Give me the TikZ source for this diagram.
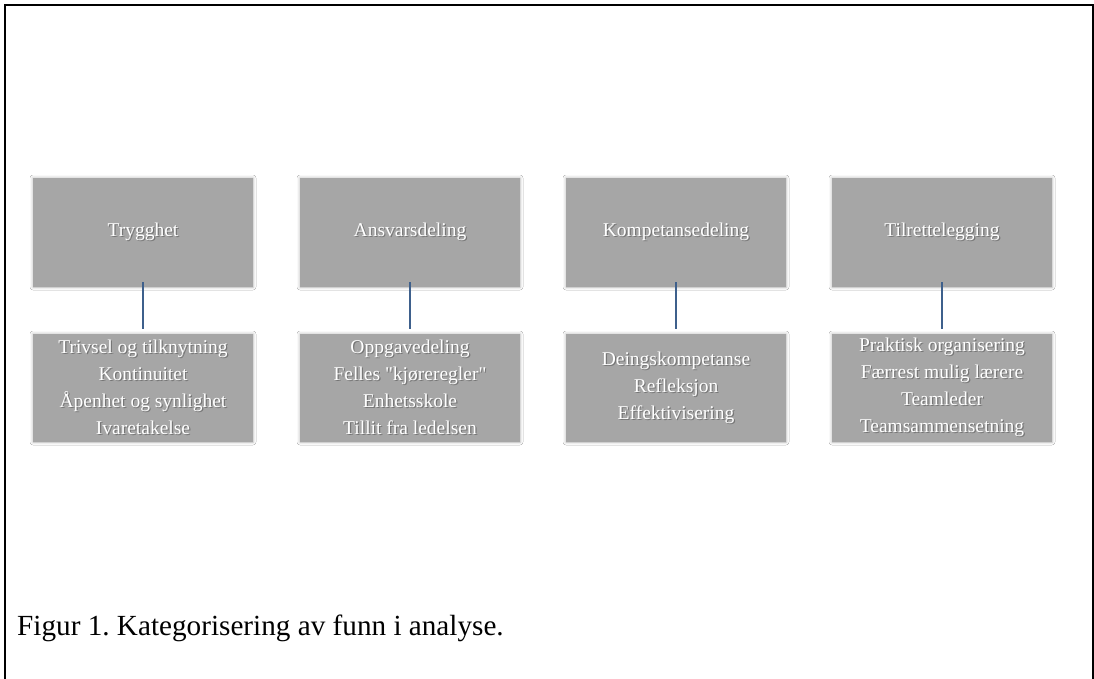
\documentclass[tikz,border=0pt]{standalone}
\usepackage{fontspec}
\setmainfont{Liberation Serif}
\usetikzlibrary{shadows.blur}
\definecolor{boxgray}{RGB}{166,166,166}
\definecolor{linkblue}{RGB}{62,96,140}
\definecolor{txtshadow}{RGB}{118,118,118}
\newcommand\shl[1]{\leavevmode\rlap{\kern1.2pt\raisebox{-1.3pt}{\color{txtshadow}#1}}{\color{white}#1}}
\frenchspacing
\begin{document}
\begin{tikzpicture}[x=1pt,y=-1pt,
  catbox/.style={fill=boxgray, draw=none, minimum width=220pt, minimum height=109pt,
    inner sep=0pt, align=center, font=\fontsize{19.5}{27}\selectfont,
    blur shadow={shadow xshift=0pt, shadow yshift=0pt, shadow blur radius=3pt, shadow opacity=30}},
  itembox/.style={catbox, minimum height=108pt},
  link/.style={draw=linkblue, line width=2pt},
  frame/.style={draw=black, line width=2pt}]
\useasboundingbox (0,0) rectangle (1094,678);
\fill[white] (0,0) rectangle (1094,678);
\draw[frame] (5,680) -- (5,5) -- (1093,5) -- (1093,680);

\node[catbox] (t1) at (143,232.5) {\shl{Trygghet}};
\node[catbox] (t2) at (410,232.5) {\shl{Ansvarsdeling}};
\node[catbox] (t3) at (676,232.5) {\shl{Kompetansedeling}};
\node[catbox] (t4) at (942,232.5) {\shl{Tilrettelegging}};

\node[itembox] (b1) at (143,388) {\shl{Trivsel og tilknytning}\\\shl{Kontinuitet}\\\shl{Åpenhet og synlighet}\\\shl{Ivaretakelse}};
\node[itembox] (b2) at (410,388) {\shl{Oppgavedeling}\\\shl{Felles \textquotedbl kjøreregler\textquotedbl}\\\shl{Enhetsskole}\\\shl{Tillit fra ledelsen}};
\node[itembox] (b3) at (676,388) {\shl{Deingskompetanse}\\\shl{Refleksjon}\\\shl{Effektivisering}};
\node[itembox] (b4) at (942,388) {\shl{Praktisk organisering}\\\shl{Færrest mulig lærere}\\\shl{Teamleder}\\\shl{Teamsammensetning}};

\foreach \i in {1,2,3,4}{
  \draw[link] ([yshift=5pt]t\i.south) -- ([yshift=5pt]b\i.north);
}

\node[anchor=base west, inner sep=0pt, font=\fontsize{29.2}{34}\selectfont] (cap) at (17,635) {Figur 1. Kategorisering av funn i analyse.};
\end{tikzpicture}
\end{document}
